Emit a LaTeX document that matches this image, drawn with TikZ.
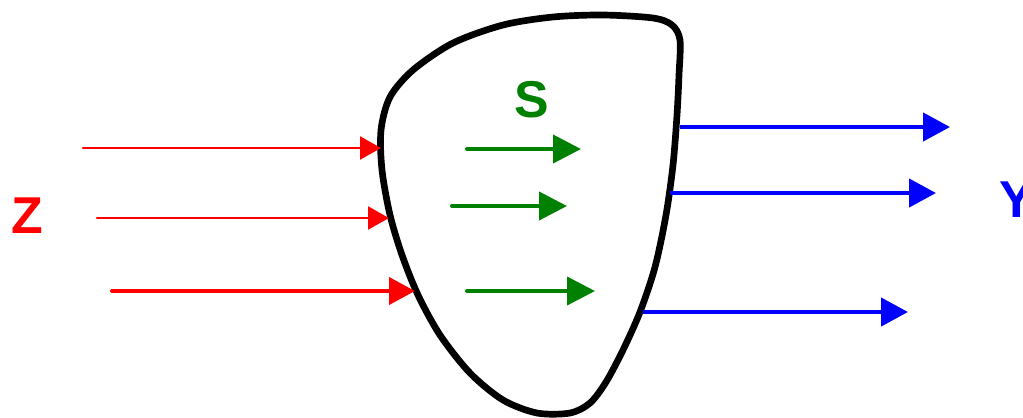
\documentclass[tikz,border=0pt]{standalone}
\usepackage{fontspec}
\setmainfont{Liberation Sans}
\usetikzlibrary{arrows.meta}

\begin{document}
\begin{tikzpicture}[
  x=0.02cm, y=-0.02cm,
  letter/.style={font=\fontsize{29.5}{30}\selectfont\bfseries, inner sep=0pt},
  redin/.style={draw=red, line cap=round, line width=1.3pt, -{Triangle[length=0.42cm, width=0.46cm]}},
  redbig/.style={redin, line width=2.3pt, -{Triangle[length=0.52cm, width=0.54cm]}},
  greenflow/.style={draw=green!50!black, line cap=round, line width=2.3pt, -{Triangle[length=0.56cm, width=0.56cm]}},
  blueout/.style={draw=blue, line width=2.5pt, -{Triangle[length=0.54cm, width=0.56cm]}}
]
  \useasboundingbox (0,0) rectangle (1023,417);

  % system boundary
  \draw[line width=3.8pt, line join=round] plot[smooth cycle, tension=0.5] coordinates {
    (680,40) (672,25) (653,18) (603,15) (553,17) (503,25) (453,43) (413,70)
    (390,97) (381,130) (382,170) (390,215) (402,255) (418,295) (440,335)
    (470,373) (503,400) (537,413) (570,413) (590,403) (606,382) (623,350)
    (640,312) (655,267) (666,215) (673,165) (677,115) (679,75)};

  % labels
  \node[letter, text=red] (zlab) at (27,216) {Z};
  \node[letter, text=green!50!black] (slab) at (532,100) {S};
  \node[letter, text=blue] (ylab) at (1017,200) {Y};

  % inputs
  \coordinate (z1) at (83,148);  \coordinate (z1e) at (381,148);
  \coordinate (z2) at (97,218);  \coordinate (z2e) at (389,218);
  \coordinate (z3) at (112,291); \coordinate (z3e) at (415,291);
  \draw[redin] (z1) -- (z1e);
  \draw[redin] (z2) -- (z2e);
  \draw[redbig] (z3) -- (z3e);

  % internal flows
  \coordinate (s1) at (467,149); \coordinate (s1e) at (581,149);
  \coordinate (s2) at (452,206); \coordinate (s2e) at (567,206);
  \coordinate (s3) at (467,291); \coordinate (s3e) at (595,291);
  \draw[greenflow] (s1) -- (s1e);
  \draw[greenflow] (s2) -- (s2e);
  \draw[greenflow] (s3) -- (s3e);

  % outputs
  \coordinate (y1) at (680,127); \coordinate (y1e) at (950,127);
  \coordinate (y2) at (670,193); \coordinate (y2e) at (936,193);
  \coordinate (y3) at (643,312); \coordinate (y3e) at (908,312);
  \draw[blueout] (y1) -- (y1e);
  \draw[blueout] (y2) -- (y2e);
  \draw[blueout] (y3) -- (y3e);
\end{tikzpicture}
\end{document}
